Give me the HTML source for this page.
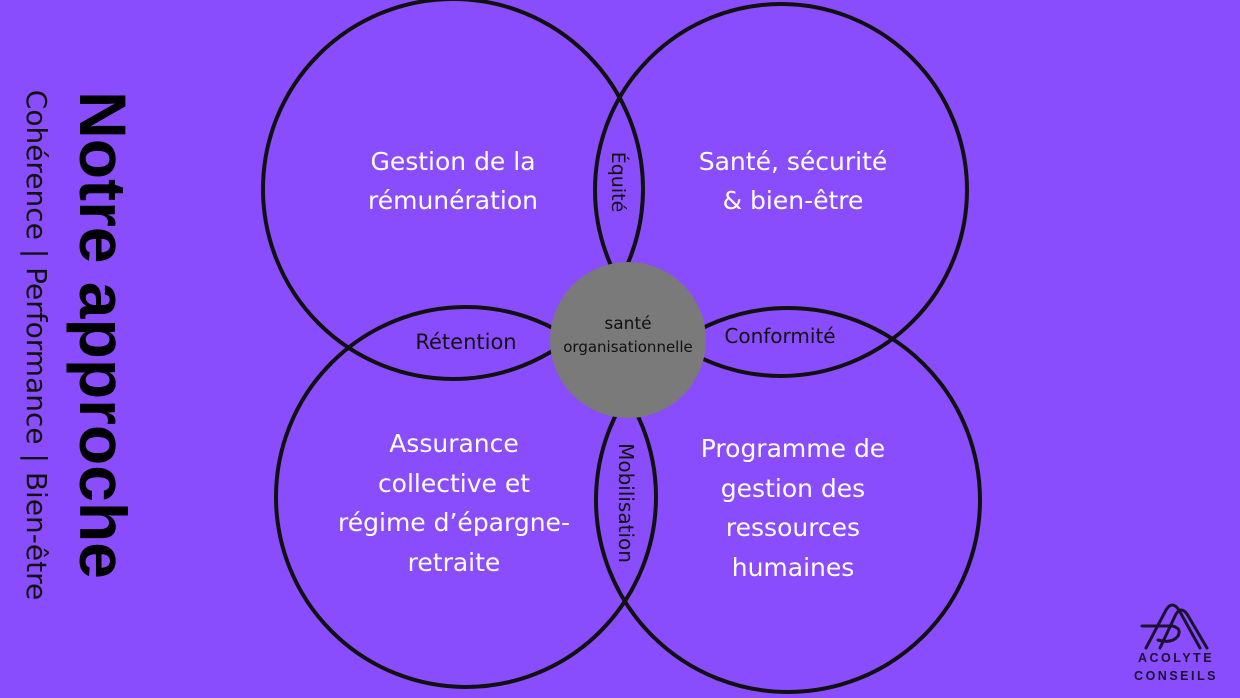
<!DOCTYPE html>
<html><head><meta charset="utf-8"><style>
html,body{margin:0;padding:0;background:#8a4dfd;}
svg{display:block}
</style></head><body>
<svg width="1240" height="698" viewBox="0 0 1240 698" xmlns="http://www.w3.org/2000/svg" font-family="'DejaVu Sans','Liberation Sans',sans-serif">
<rect width="1240" height="698" fill="#8a4dfd"/>
<g fill="none" stroke="#111" stroke-width="4">
<circle cx="453" cy="189" r="190"/>
<circle cx="781" cy="190" r="186"/>
<circle cx="466" cy="497" r="190"/>
<circle cx="788" cy="500" r="192"/>
</g>
<circle cx="628" cy="340" r="78" fill="#7a7a7a"/>
<g fill="#fff" font-size="25" text-anchor="middle">
<text x="453" y="170">Gestion de la</text>
<text x="453" y="209">rémunération</text>
<text x="793" y="170">Santé, sécurité</text>
<text x="793" y="209">&amp; bien-être</text>
<text x="454" y="452">Assurance</text>
<text x="454" y="492">collective et</text>
<text x="454" y="531">régime d’épargne-</text>
<text x="454" y="571">retraite</text>
<text x="793" y="457">Programme de</text>
<text x="793" y="497">gestion des</text>
<text x="793" y="536">ressources</text>
<text x="793" y="576">humaines</text>
</g>
<g fill="#111" text-anchor="middle">
<text x="466" y="349" font-size="21">Rétention</text>
<text x="780" y="343" font-size="20">Conformité</text>
<text x="628" y="329" font-size="17">santé</text>
<text x="628" y="352" font-size="15">organisationnelle</text>
<text transform="translate(612,182) rotate(90)" font-size="19">Équité</text>
<text transform="translate(619,503) rotate(90)" font-size="20">Mobilisation</text>
</g>
<text transform="translate(80,335) rotate(90)" text-anchor="middle" font-family="'Liberation Sans',sans-serif" font-weight="bold" font-size="66" fill="#000">Notre approche</text>
<text transform="translate(27,345) rotate(90)" text-anchor="middle" font-size="28" fill="#111">Cohérence | Performance | Bien-être</text>
<g fill="none" stroke="#1a1230" stroke-width="3" stroke-linecap="round">
<path d="M1146 648 L1166 610 Q1172 600 1179 610 L1200 648"/>
<path d="M1160 648 L1176 614 Q1181 606 1187 614 L1207 648"/>
<path d="M1142 626 L1172 626 Q1182 628 1178 636 Q1172 644 1158 640"/>
</g>
<g fill="#1a1230" font-family="'Liberation Sans',sans-serif" font-weight="bold" font-size="12.5" letter-spacing="2.5" text-anchor="middle">
<text x="1176" y="662">ACOLYTE</text>
<text x="1176" y="680">CONSEILS</text>
</g>
</svg>
</body></html>
